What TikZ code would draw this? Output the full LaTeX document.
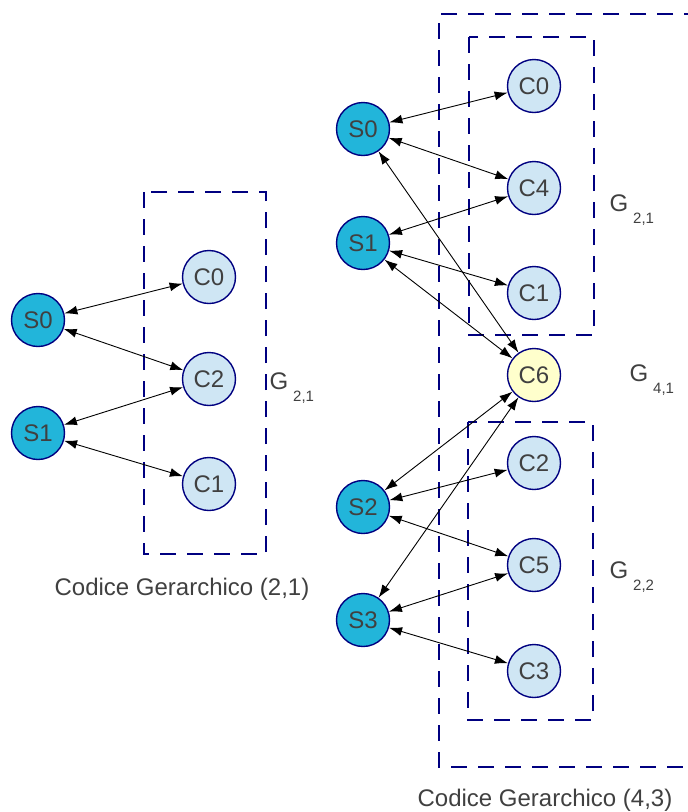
\documentclass[tikz,border=0pt]{standalone}
\usepackage{fontspec}
\setmainfont{Liberation Sans}
\usepackage{tikz}
\usetikzlibrary{arrows.meta,positioning}
\definecolor{CodeNavy}{HTML}{000080}
\definecolor{CodeCyan}{HTML}{22B5DA}
\definecolor{CodePale}{HTML}{CFE6F4}
\definecolor{CodeCream}{HTML}{FFFFCC}
\definecolor{CodeInk}{HTML}{404040}

\begin{document}
\begin{tikzpicture}[x=1pt, y=-1pt,
  every node/.style={font=\fontsize{24}{28}\selectfont, text=CodeInk},
  sorg/.style={circle, draw=CodeNavy, line width=1.4pt, fill=CodeCyan,
               minimum size=53pt, inner sep=0pt},
  cod/.style={sorg, fill=CodePale},
  gruppo/.style={draw=CodeNavy, line width=1.8pt, dash pattern=on 16pt off 11pt},
  link/.style={{Latex[length=13pt,width=9pt]}-{Latex[length=13pt,width=9pt]},
               line width=0.9pt, draw=black}
]
\useasboundingbox (0,0) rectangle (688,812);
\newcommand{\gname}[1]{G\hspace{5pt}\raisebox{-12pt}{\fontsize{15}{17}\selectfont #1}}

% codice (2,1)
\draw[gruppo] (144,192) rectangle (266,554);
\node[sorg] (s0) at (38,320) {S0};
\node[sorg] (s1) at (38,433) {S1};
\node[cod] (c0) at (209,277) {C0};
\node[cod] (c2) at (209,379) {C2};
\node[cod] (c1) at (209,484) {C1};
\node[anchor=west] (g21) at (266,388) {\gname{2,1}};
\node (cap1) at (182,589) {Codice Gerarchico (2,1)};
\draw[link] (s0) -- (c0);
\draw[link] (s0) -- (c2);
\draw[link] (s1) -- (c2);
\draw[link] (s1) -- (c1);

% codice (4,3)
\draw[gruppo] (700,14) -- (439,14) -- (439,767) -- (700,767);
\draw[gruppo] (469,37) rectangle (594,335);
\draw[gruppo] (468,422) rectangle (593,720);
\node[sorg] (rs0) at (363,129) {S0};
\node[sorg] (rs1) at (363,243) {S1};
\node[sorg] (rs2) at (363,507) {S2};
\node[sorg] (rs3) at (363,620) {S3};
\node[cod] (rc0) at (534,86) {C0};
\node[cod] (rc4) at (534,188) {C4};
\node[cod] (rc1) at (534,293) {C1};
\node[cod, fill=CodeCream] (rc6) at (534,375) {C6};
\node[cod] (rc2) at (534,463) {C2};
\node[cod] (rc5) at (534,565) {C5};
\node[cod] (rc3) at (534,671) {C3};
\node[anchor=west] (g21b) at (606,210) {\gname{2,1}};
\node[anchor=west] (g41) at (626,380) {\gname{4,1}};
\node[anchor=west] (g22) at (606,577) {\gname{2,2}};
\node (cap2) at (545,800) {Codice Gerarchico (4,3)};
\draw[link] (rs0) -- (rc0);
\draw[link] (rs0) -- (rc4);
\draw[link] (rs0) -- (rc6);
\draw[link] (rs1) -- (rc4);
\draw[link] (rs1) -- (rc1);
\draw[link] (rs1) -- (rc6);
\draw[link] (rs2) -- (rc6);
\draw[link] (rs2) -- (rc2);
\draw[link] (rs2) -- (rc5);
\draw[link] (rs3) -- (rc6);
\draw[link] (rs3) -- (rc5);
\draw[link] (rs3) -- (rc3);
\end{tikzpicture}
\end{document}
